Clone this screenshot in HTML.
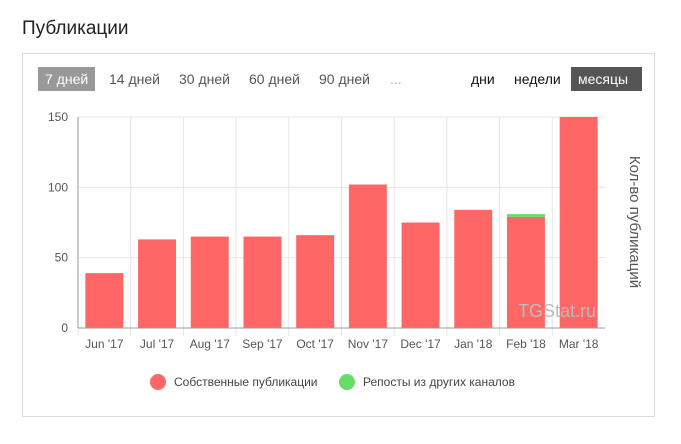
<!DOCTYPE html>
<html><head><meta charset="utf-8"><style>
body{margin:0;width:681px;height:444px;background:#fff;font-family:"Liberation Sans",sans-serif;position:relative;overflow:hidden}
.t{position:absolute;left:22px;top:18px;font-size:19px;color:#222}
.card{position:absolute;left:22px;top:53px;width:633px;height:364px;border:1px solid #ddd;box-sizing:border-box}
.btn{position:absolute;top:67px;height:24px;line-height:24px;font-size:14px;color:#555;padding:0 7px}
</style></head><body>
<div class="t">Публикации</div>
<div class="card"></div>
<div class="btn" style="left:38px;background:#999;color:#fff">7 дней</div>
<div class="btn" style="left:102px">14 дней</div>
<div class="btn" style="left:172px">30 дней</div>
<div class="btn" style="left:242px">60 дней</div>
<div class="btn" style="left:312px">90 дней</div>
<div class="btn" style="left:383px;color:#aaa">...</div>
<div class="btn" style="left:464px;color:#111">дни</div>
<div class="btn" style="left:507px;color:#111">недели</div>
<div class="btn" style="left:571px;width:57px;background:#555;color:#fff">месяцы</div>
<svg id="c" width="681" height="444" style="position:absolute;left:0;top:0"></svg>
<script>
const categories=["Jun '17","Jul '17","Aug '17","Sep '17","Oct '17","Nov '17","Dec '17","Jan '18","Feb '18","Mar '18"];
const ownPosts=[39,63,65,65,66,102,75,84,79,150];
const reposts=[0,0,0,0,0,0,0,0,2,0];
const yTicks=[0,50,100,150];
const svg=document.getElementById('c');const NS='http://www.w3.org/2000/svg';
const L=78,R=605,T=117,B=328,max=150;
const y=v=>B-(Math.min(v,max)/max)*(B-T);
const bw=(R-L)/categories.length;
const x=i=>L+i*bw;
function mk(t,a,txt){const e=document.createElementNS(NS,t);for(const k in a)e.setAttribute(k,a[k]);if(txt!=null)e.textContent=txt;svg.appendChild(e);return e;}
yTicks.forEach(v=>{
 const g=mk('line',{x1:L,x2:R,y1:y(v),y2:y(v),stroke:v?'#e6e6e6':'#ccc'});
 
 
 const t=mk('text',{x:L-10,y:y(v)+4,'text-anchor':'end','font-size':12,fill:'#555'},v);
 
 
});
categories.forEach((c,i)=>{
 const vl=mk('line',{x1:x(i),x2:x(i),y1:T,y2:B+8,stroke:'#e6e6e6'});
 
 
 const w=bw*0.72,bx=x(i)+(bw-w)/2;
 const b=mk('rect',{x:bx,y:y(ownPosts[i]),width:w,height:B-y(ownPosts[i]),fill:'#ff6666'});
 
 
 if(reposts[i]>0){const top=ownPosts[i]+reposts[i];
  const g=mk('rect',{x:bx,y:y(top),width:w,height:y(ownPosts[i])-y(top),fill:'#66dd66'});
  
  }
 const t=mk('text',{x:x(i)+bw/2,y:B+20,'text-anchor':'middle','font-size':12,fill:'#555'},c);
 
 
});
const ax=mk('line',{x1:L,x2:L,y1:T,y2:B,stroke:'#999'});
const xa=mk('line',{x1:L,x2:R,y1:B,y2:B,stroke:'#999'});
const wm=mk('text',{x:596,y:317,'text-anchor':'end','font-size':18,fill:'#bbb'},'TGStat.ru');
const yt=mk('text',{x:630,y:222,'text-anchor':'middle','font-size':15,fill:'#555',transform:'rotate(90 630 222)'},'Кол-во публикаций');
const l1=mk('circle',{cx:158,cy:382,r:8,fill:'#ff6666'});
const lt1=mk('text',{x:174,y:386,'font-size':12,fill:'#444'},'Собственные публикации');
const l2=mk('circle',{cx:347,cy:382,r:8,fill:'#66dd66'});
const lt2=mk('text',{x:363,y:386,'font-size':12,fill:'#444'},'Репосты из других каналов');
</script>
</body></html>
